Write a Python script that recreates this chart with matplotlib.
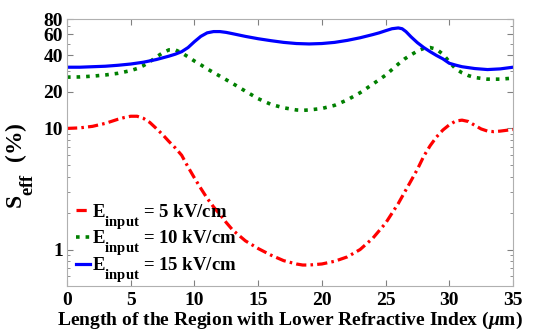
import numpy as np
import matplotlib
matplotlib.use('Agg')
import matplotlib.pyplot as plt
import matplotlib._mathtext as mathtext_internal
from matplotlib.ticker import FixedLocator, LogLocator, NullFormatter

plt.rcParams['font.family'] = 'Liberation Serif'
plt.rcParams['font.weight'] = 'bold'
plt.rcParams['mathtext.fontset'] = 'custom'
plt.rcParams['mathtext.rm'] = 'Liberation Serif:bold'
plt.rcParams['mathtext.bf'] = 'Liberation Serif:bold'
plt.rcParams['mathtext.it'] = 'Liberation Serif:italic'
# subscripts in the reference are larger and sit lower
mathtext_internal.SHRINK_FACTOR = 0.78
mathtext_internal.FontConstantsBase.sub1 = 1.0
mathtext_internal.FontConstantsBase.sub2 = 1.0

# values
x_red = [0, 1, 2, 3, 4, 4.5, 5, 5.5, 6, 6.5, 7, 7.5, 8, 8.5, 9, 9.5, 10, 10.5, 11, 11.5,
         12, 12.5, 13, 14, 15, 16, 17, 18, 18.5, 19, 20, 21, 22, 23, 24, 25, 26, 27, 27.5,
         28, 28.5, 29, 29.5, 30, 30.5, 31, 31.5, 32, 32.5, 33, 33.5, 34, 35]
y_red = [10, 10.1, 10.4, 11, 11.9, 12.3, 12.6, 12.6, 12.1, 11.2, 10, 8.9, 7.8, 6.9, 6.0,
         4.8, 3.9, 3.2, 2.65, 2.25, 1.95, 1.67, 1.45, 1.18, 1.02, 0.9, 0.81, 0.76, 0.745,
         0.745, 0.76, 0.8, 0.87, 1.0, 1.24, 1.65, 2.4, 3.7, 4.6, 5.9, 7.2, 8.5, 9.7, 10.7,
         11.5, 11.7, 11.4, 10.6, 9.9, 9.5, 9.4, 9.5, 9.8]

x_green = [0, 1, 2, 3, 4, 5, 5.5, 6, 6.5, 7, 7.5, 8, 8.5, 9, 9.5, 10, 10.5, 11, 12, 13,
           14, 15, 16, 17, 18, 18.5, 19, 20, 21, 22, 23, 24, 25, 26, 26.5, 27, 27.5, 28,
           28.5, 29, 29.5, 30, 30.5, 31, 31.5, 32, 33, 34, 35]
y_green = [26.5, 26.6, 27, 27.6, 28.5, 30, 31.2, 33, 35.5, 38.8, 42, 44.5, 44.5, 42, 39,
           36, 33.5, 31, 27, 23.5, 20.3, 17.6, 15.8, 14.8, 14.2, 14.1, 14.2, 14.6, 15.5,
           17.2, 19.7, 23.2, 27.5, 34, 37.5, 40.5, 43.5, 45.8, 46.5, 45, 41, 35.5, 31,
           28.8, 27.3, 26.3, 25.5, 25.5, 26]

x_blue = [0, 1, 2, 3, 4, 5, 6, 7, 8, 8.5, 9, 9.5, 10, 10.5, 11, 11.5, 12, 12.5, 13, 14, 15,
          16, 17, 18, 19, 20, 21, 22, 23, 24, 24.5, 25, 25.5, 26, 26.3, 26.6, 27, 27.5, 28,
          28.5, 29, 29.5, 30, 30.5, 31, 32, 33, 34, 35]
y_blue = [32, 32, 32.3, 32.6, 33.2, 34, 35.2, 37, 39.5, 41, 43, 46.5, 52, 57.5, 61.5, 63,
          63, 62, 60.5, 57.5, 55, 53, 51.3, 50.2, 49.8, 50.2, 51.3, 53.3, 56, 59.5, 61.5,
          64, 66.5, 67.5, 66.5, 63, 57, 51, 46.5, 43, 40, 37.5, 34.5, 33.3, 32.3, 31.2,
          30.6, 31, 32]

labels = [r'$\mathbf{E_{input}}$ = 5 kV/cm',
          r'$\mathbf{E_{input}}$ = 10 kV/cm',
          r'$\mathbf{E_{input}}$ = 15 kV/cm']

fig = plt.figure(figsize=(5.51, 3.30), dpi=100)
ax = fig.add_axes([0.1216, 0.1333, 0.8094, 0.8091])

ax.plot(x_red, y_red, color='#ff0000', linestyle='-.', dashes=(3.2, 1.3, 0.8, 1.3),
        linewidth=2.3, label=labels[0])
ax.plot(x_green, y_green, color='#008000', linestyle=':', linewidth=2.6, label=labels[1])
ax.plot(x_blue, y_blue, color='#0000ff', linestyle='-', linewidth=2.3, label=labels[2])

ax.set_yscale('log')
ax.set_xlim(0, 35)
ax.set_ylim(0.5, 80)
ax.set_xticks([0, 5, 10, 15, 20, 25, 30, 35])
ax.yaxis.set_major_locator(FixedLocator([1, 10, 20, 40, 60, 80]))
ax.yaxis.set_minor_locator(LogLocator(base=10, subs=np.arange(2, 10)))
ax.yaxis.set_minor_formatter(NullFormatter())
ax.set_yticklabels(['1', '10', '20', '40', '60', '80'])

ax.tick_params(which='both', direction='in', top=True, right=True, labelsize=14,
               color='#808080')
ax.tick_params(axis='x', pad=4)
ax.tick_params(axis='y', pad=3)
ax.tick_params(which='major', length=4)
ax.tick_params(which='minor', length=2.5)
for s in ax.spines.values():
    s.set_color('#b0b0b0')

ax.set_xlabel(r'Length of the Region with Lower Refractive Index ($\mathit{\mu}$m)',
              fontsize=14, fontweight='bold', labelpad=1)
ax.set_ylabel(r'$\mathbf{S_{eff}}$  (%)', fontsize=17, fontweight='bold')
ax.yaxis.set_label_coords(-0.072, 0.45)

ax.legend(loc='lower left', bbox_to_anchor=(-0.005, -0.035), frameon=False, fontsize=13.5,
          handlelength=0.75, handletextpad=0.1, labelspacing=-0.12, borderaxespad=0.2)

fig.savefig('out.png', dpi=100)
